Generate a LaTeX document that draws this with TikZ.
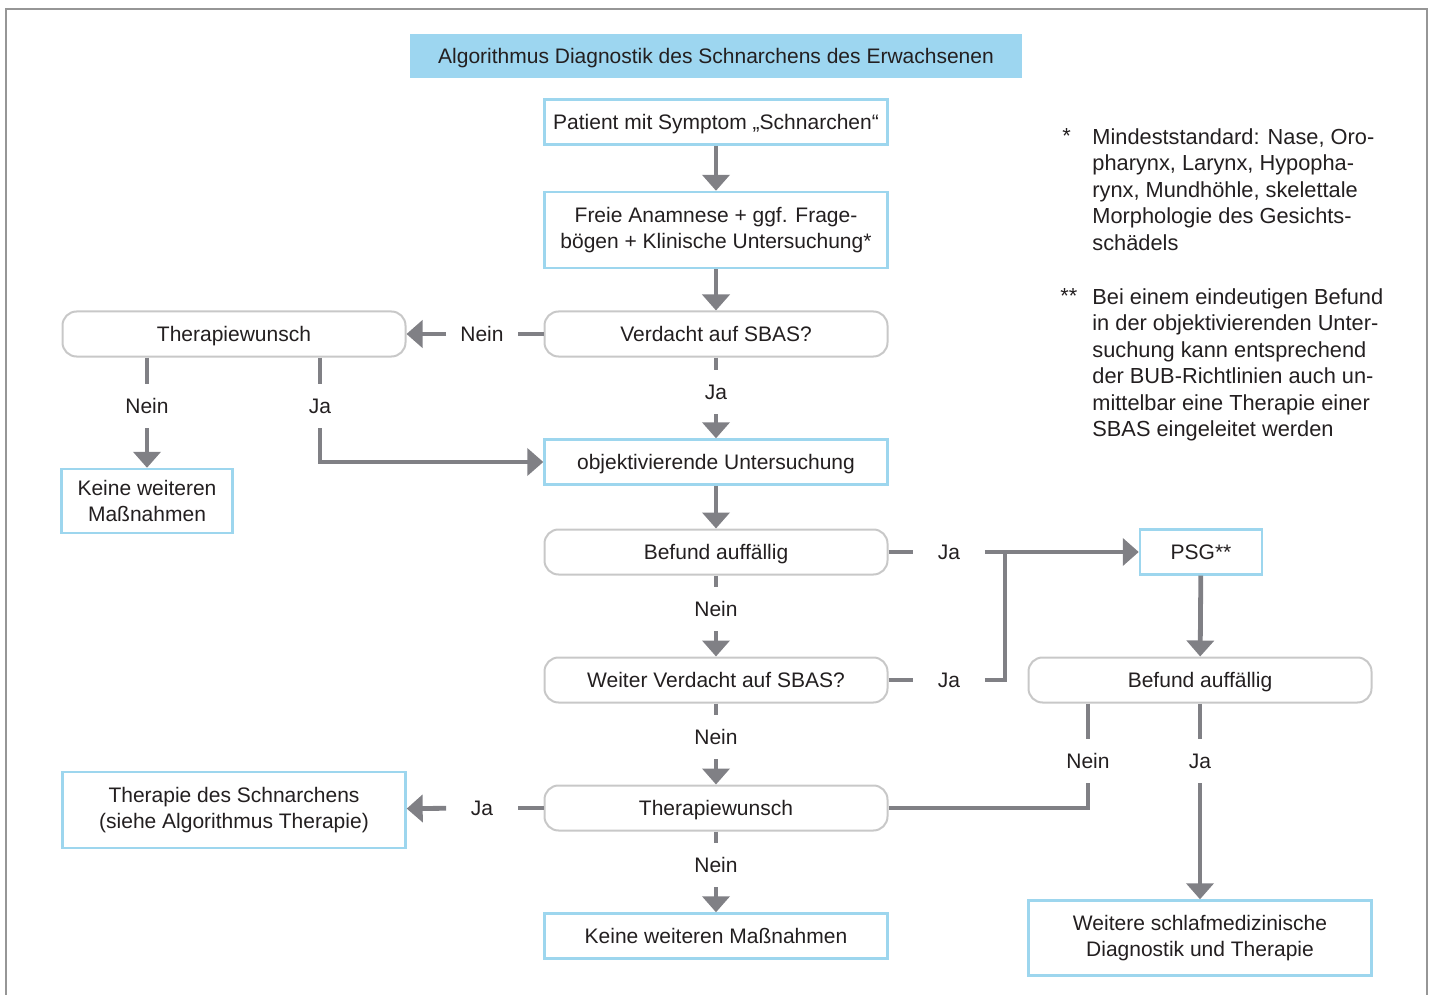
\documentclass[tikz,border=0pt]{standalone}
\usepackage{fontspec}
\setmainfont{Liberation Sans}
\usetikzlibrary{arrows.meta,calc}
\definecolor{linegray}{RGB}{128,128,133}
\definecolor{boxblue}{RGB}{157,214,238}
\definecolor{titleblue}{RGB}{157,214,240}
\definecolor{roundgray}{RGB}{200,200,200}
\definecolor{txtdark}{RGB}{35,31,32}
\definecolor{framegray}{RGB}{150,150,150}

\begin{document}
\begin{tikzpicture}[x=0.5pt,y=-0.5pt,
  font=\fontsize{10.5}{13.2}\selectfont,
  every node/.style={text=txtdark},
  one/.style={text height=9pt, text depth=1.6pt},
  box/.style={draw=boxblue, line width=1.2pt, fill=white, minimum width=171.5pt, minimum height=22.5pt, align=center, inner sep=2pt},
  rbox/.style={draw=roundgray, line width=1pt, rounded corners=7pt, fill=white, minimum width=171.5pt, minimum height=22.5pt, align=center, one},
  lbl/.style={inner sep=0pt, minimum width=35.5pt, minimum height=22pt},
  note/.style={anchor=north west, inner sep=0pt, align=left, font=\fontsize{10.9}{13.25}\selectfont},
  conn/.style={draw=linegray, line width=2.4pt},
  arr/.style={conn, -{Triangle[length=8pt,width=13.5pt]}}]
\useasboundingbox (0,0) rectangle (1432,995);
\draw[framegray, line width=1pt] (6,9) rectangle (1427,1020);

% Title
\node[fill=titleblue, minimum width=306pt, minimum height=22pt, one] (title) at (716,56) {Algorithmus Diagnostik des Schnarchens des Erwachsenen};

% Main column
\node[box, one] (patient) at (716,122) {Patient mit Symptom „Schnarchen“};
\node[box, minimum height=38pt] (anamnese) at (716,230) {Freie Anamnese + ggf. Frage-\\bögen + Klinische Untersuchung*};
\node[rbox] (verdacht) at (716,334) {Verdacht auf SBAS?};
\node[box, one] (objektiv) at (716,462) {objektivierende Untersuchung};
\node[rbox] (befund) at (716,552) {Befund auffällig};
\node[rbox] (weiter) at (716,680) {Weiter Verdacht auf SBAS?};
\node[rbox] (wunsch) at (716,808) {Therapiewunsch};
\node[box, one] (keine) at (716,936) {Keine weiteren Maßnahmen};

% Left column
\node[rbox] (wunschL) at (234,334) {Therapiewunsch};
\node[box, minimum width=85.5pt, minimum height=32pt] (keineL) at (147,501) {Keine weiteren\\Maßnahmen};
\node[box, minimum height=38pt] (therapie) at (234,810) {Therapie des Schnarchens\\(siehe Algorithmus Therapie)};

% Right column
\node[box, minimum width=61pt, one] (psg) at (1201,552) {PSG**};
\node[rbox] (befundR) at (1200,680) {Befund auffällig};
\node[box, minimum height=37.5pt] (weitere) at (1200,938) {Weitere schlafmedizinische\\Diagnostik und Therapie};
\coordinate (jn) at (1005,552);

% Labels
\node[lbl] (nein1) at (482,334) {Nein};
\node[lbl] (ja1) at (716,392) {Ja};
\node[lbl] (neinL) at (147,406) {Nein};
\node[lbl] (jaL) at (320,406) {Ja};
\node[lbl] (ja2) at (949,552) {Ja};
\node[lbl] (nein2) at (716,609) {Nein};
\node[lbl] (ja3) at (949,680) {Ja};
\node[lbl] (nein3) at (716,737) {Nein};
\node[lbl] (neinR) at (1088,761) {Nein};
\node[lbl] (jaR) at (1200,761) {Ja};
\node[lbl] (ja4) at (482,808) {Ja};
\node[lbl] (nein4) at (716,865) {Nein};

% Connectors
\draw[arr] (patient) -- (anamnese);
\draw[arr] (anamnese) -- (verdacht);
\draw[conn] (verdacht) -- (nein1);
\draw[arr] (nein1) -- (wunschL);
\draw[conn] (verdacht) -- (ja1);
\draw[arr] (ja1) -- (objektiv);
\draw[conn] (neinL |- wunschL.south) -- (neinL);
\draw[arr] (neinL) -- (keineL);
\draw[conn] (jaL |- wunschL.south) -- (jaL);
\draw[arr] (jaL) |- (objektiv.west);
\draw[arr] (objektiv) -- (befund);
\draw[conn] (befund) -- (ja2);
\draw[arr] (ja2) -- (psg);
\draw[conn] (befund) -- (nein2);
\draw[arr] (nein2) -- (weiter);
\draw[conn] (weiter) -- (ja3);
\draw[conn] (ja3) -| (jn);
\draw[conn] (weiter) -- (nein3);
\draw[arr] (nein3) -- (wunsch);
\draw[arr] (psg) -- (befundR);
\draw[conn] (neinR |- befundR.south) -- (neinR);
\draw[conn] (neinR) |- (wunsch.east);
\draw[conn] (befundR) -- (jaR);
\draw[arr] (jaR) -- (weitere);
\draw[conn] (wunsch) -- (ja4);
\draw[arr] (ja4) -- (therapie);
\draw[conn] (wunsch) -- (nein4);
\draw[arr] (nein4) -- (keine);

% Notes
\node[note] (star1) at (1062,128) {*};
\node[note] (note1) at (1092,128) {Mindeststandard: Nase, Oro-\\pharynx, Larynx, Hypopha-\\rynx, Mundhöhle, skelettale\\Morphologie des Gesichts-\\schädels};
\node[note] (star2) at (1060,288) {**};
\node[note] (note2) at (1092,288) {Bei einem eindeutigen Befund\\in der objektivierenden Unter-\\suchung kann entsprechend\\der BUB-Richtlinien auch un-\\mittelbar eine Therapie einer\\SBAS eingeleitet werden};
\end{tikzpicture}
\end{document}
